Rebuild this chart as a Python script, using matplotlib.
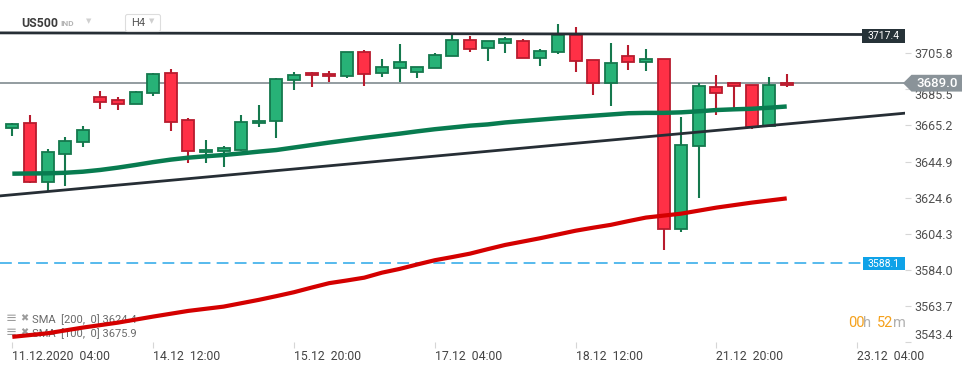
import matplotlib
matplotlib.use('Agg')
import matplotlib.pyplot as plt
from matplotlib.patches import Polygon, Rectangle, FancyBboxPatch
import numpy as np

plt.rcParams['font.family'] = ['Roboto', 'DejaVu Sans']
plt.rcParams['lines.scale_dashes'] = False

W, H = 974, 368

# ---------------- data ----------------
opens = [3663.6, 3666.4, 3633.6, 3649.0, 3655.8, 3681.1, 3679.4, 3677.1, 3683.3, 3694.6,
         3668.1, 3650.1, 3650.7, 3651.6, 3666.4, 3667.6, 3690.6, 3694.6, 3694.0, 3692.9,
         3706.4, 3694.6, 3697.4, 3695.1, 3697.4, 3704.1, 3713.1, 3708.6, 3711.4, 3712.6,
         3703.0, 3706.4, 3715.9, 3701.9, 3688.9, 3704.1, 3700.7, 3702.4, 3606.8, 3653.5,
         3686.7, 3688.9, 3687.8, 3664.8, 3688.9]
highs = [3666.8, 3671.1, 3652.0, 3658.7, 3665.1, 3684.6, 3681.2, 3684.6, 3694.6, 3697.0,
         3669.3, 3657.1, 3653.7, 3671.1, 3676.7, 3691.9, 3695.1, 3695.1, 3695.7, 3706.4,
         3707.5, 3702.4, 3711.0, 3697.9, 3706.0, 3716.1, 3715.5, 3712.6, 3714.8, 3713.7,
         3708.1, 3722.3, 3720.8, 3701.9, 3711.6, 3710.5, 3708.2, 3702.4, 3670.0, 3688.9,
         3693.6, 3688.9, 3687.8, 3692.5, 3694.2]
lows = [3659.5, 3633.0, 3628.0, 3631.2, 3653.3, 3674.5, 3673.9, 3677.1, 3682.0, 3662.3,
        3643.9, 3644.3, 3642.0, 3651.0, 3664.5, 3658.3, 3685.3, 3686.7, 3689.4, 3692.1,
        3687.6, 3692.6, 3689.8, 3692.1, 3697.4, 3704.1, 3706.7, 3701.6, 3706.1, 3703.0,
        3698.8, 3705.2, 3695.5, 3682.4, 3676.3, 3696.4, 3696.0, 3595.4, 3605.5, 3624.6,
        3671.3, 3674.3, 3663.4, 3664.8, 3686.7]
closes = [3665.9, 3633.6, 3650.1, 3656.5, 3662.7, 3678.6, 3677.1, 3683.9, 3694.0, 3667.0,
          3650.7, 3651.4, 3652.4, 3667.0, 3667.6, 3691.2, 3693.4, 3693.4, 3692.9, 3706.4,
          3694.0, 3697.9, 3700.7, 3697.9, 3704.7, 3713.1, 3708.1, 3712.6, 3713.7, 3703.0,
          3706.9, 3715.9, 3701.3, 3688.9, 3700.2, 3700.7, 3702.4, 3606.8, 3654.1, 3687.2,
          3683.3, 3687.2, 3664.5, 3687.8, 3687.8]

sma100 = [3638.1, 3638.2, 3638.3, 3638.6, 3639.2, 3640.2, 3641.5, 3643.0, 3644.6, 3646.0,
          3647.1, 3647.9, 3648.6, 3649.5, 3650.5, 3651.4, 3652.8, 3654.2, 3655.6, 3656.9,
          3658.2, 3659.4, 3660.6, 3661.9, 3663.1, 3664.1, 3665.1, 3665.8, 3666.9, 3667.7,
          3668.5, 3669.3, 3670.0, 3670.7, 3671.4, 3672.1, 3672.3, 3672.3, 3672.6, 3673.2,
          3673.9, 3674.3, 3674.6, 3675.2, 3675.9]
sma200 = [3546.3, 3547.3, 3548.3, 3549.9, 3551.5, 3552.9, 3554.3, 3556.0, 3557.7, 3559.3,
          3560.9, 3562.1, 3563.3, 3565.2, 3567.1, 3569.2, 3571.4, 3574.0, 3576.5, 3578.0,
          3579.6, 3582.4, 3584.5, 3587.0, 3589.4, 3591.2, 3593.1, 3595.6, 3598.0, 3599.9,
          3601.8, 3603.9, 3606.0, 3607.7, 3609.3, 3611.4, 3613.4, 3614.5, 3615.6, 3617.3,
          3619.0, 3620.4, 3621.8, 3623.0, 3624.2]

y_ticks = [3705.8, 3685.5, 3665.2, 3644.9, 3624.6, 3604.3, 3584.0, 3563.7, 3543.4]
x_tick_pos = [0, 8, 16, 24, 32, 40, 48]
x_tick_labels = ['11.12.2020  04:00', '14.12  12:00', '15.12  20:00', '17.12  04:00',
                 '18.12  12:00', '21.12  20:00', '23.12  04:00']

resistance_x = [-0.7, 48.2]
resistance_y = [3717.3, 3716.4]
support_x = [-0.7, 50.8]
support_y = [3625.6, 3672.2]
last_price = 3689.0
resistance_label = 3717.4
blue_level = 3588.1
sma_labels = ['SMA  [200,  0] 3624.4', 'SMA  [100,  0] 3675.9']
symbol = 'US500'
timeframe = 'H4'

# ---------------- colors ----------------
UP_FILL, UP_EDGE = '#27b277', '#15784d'
DN_FILL, DN_EDGE = '#ff3046', '#b81b2e'

fig = plt.figure(figsize=(W / 100, H / 100), dpi=100)
fig.patch.set_facecolor('white')

under = fig.add_axes([0, 0, 1, 1], zorder=0)
under.set_xlim(0, W); under.set_ylim(H, 0); under.axis('off')

ax = fig.add_axes([0, 26 / H, 905 / W, 342 / H], zorder=1)
ax.set_facecolor('none')
ax.set_xlim(-0.7, 50.72)
ax.set_ylim(3543.45, 3735.8)
for s in ax.spines.values():
    s.set_visible(False)

o = np.array(opens); hi = np.array(highs); lo = np.array(lows); c = np.array(closes)
x = np.arange(len(o))
up = c >= o
fills = np.where(up, UP_FILL, DN_FILL)
edges = np.where(up, UP_EDGE, DN_EDGE)

ax.vlines(x, lo, hi, colors=edges, lw=1.5, zorder=3)
ax.bar(x, np.abs(c - o), bottom=np.minimum(o, c), width=0.68, color=fills,
       edgecolor=edges, linewidth=1.3, zorder=4)

ax.plot(x, sma100, color='#087c50', lw=3.2, zorder=5, solid_capstyle='butt')
ax.plot(x, sma200, color='#d40000', lw=3.0, zorder=5, solid_capstyle='butt')

ax.plot(resistance_x, resistance_y, color='#262e35', lw=2.0, zorder=5)
ax.plot(support_x, support_y, color='#262e35', lw=2.0, zorder=5)

ax.axhline(last_price, color='#8a9499', lw=1.3, zorder=2)
ax.axhline(blue_level, xmax=862 / 905, color='#39aeea', lw=1.2, zorder=2,
           dashes=(8.5, 4.5))

ax.yaxis.tick_right()
ax.set_yticks(y_ticks)
ax.set_yticklabels([f'{v:.1f}' for v in y_ticks])
ax.tick_params(axis='y', length=4, width=0.8, color='#d6d6d6', pad=3,
               labelsize=9, labelcolor='#505050')
ax.get_yticklabels()[-1].set_va('bottom')
# the 3685.5 label sits mostly behind the last-price box
ax.get_yticklabels()[1].set_va('top')

ax.set_xticks(x_tick_pos)
ax.set_xticklabels(x_tick_labels)
ax.tick_params(axis='x', length=4, width=0.8, color='#d6d6d6', pad=2,
               labelsize=8.8, labelcolor='#444444')
for lbl in ax.get_xticklabels():
    lbl.set_ha('left')

# ---------------- overlay ----------------
ov = fig.add_axes([0, 0, 1, 1], zorder=5)
ov.set_xlim(0, W); ov.set_ylim(H, 0); ov.axis('off')


def py(price):
    return H - ax.transData.transform((0, price))[1]


# last price box
yp = py(last_price)
ov.add_patch(Polygon([(903, yp), (911.5, yp - 8.4), (962, yp - 8.4), (962, yp + 8.4),
                      (911.5, yp + 8.4)], closed=True, fc='#8a9399', ec='none'))
ov.text(937, yp + 0.5, f'{last_price:.1f}', color='white', fontsize=9.5,
        ha='center', va='center', fontweight='medium')

# resistance box
yr = py(resistance_y[-1]) + 1.5
ov.add_patch(Rectangle((862, yr - 6.7), 43, 13.4, fc='#263238', ec='none'))
ov.text(883.5, yr, f'{resistance_label:.1f}', color='white', fontsize=7.5,
        ha='center', va='center')

# blue level box
yb = py(blue_level) + 1
ov.add_patch(Rectangle((862.5, yb - 6.8), 42.5, 13.6, fc='#0ea2e8', ec='none'))
ov.text(883.7, yb, f'{blue_level:.1f}', color='white', fontsize=7.5,
        ha='center', va='center')

# header
ov.text(21, 23.5, symbol, fontsize=8.8, fontweight='bold', color='#3c3c3c',
        ha='left', va='center')
ov.text(60, 24, 'IND', fontsize=6, fontweight='bold', color='#b4b4b4',
        ha='left', va='center')
ov.text(86, 21, '▼', fontsize=5, color='#d0d0d0', ha='left', va='center',
        family='DejaVu Sans')
ov.add_patch(FancyBboxPatch((125.5, 14.5), 35, 17, boxstyle='round,pad=0,rounding_size=2',
                            fc='white', ec='#dddddd', lw=0.8))
ov.text(131, 23.2, timeframe, fontsize=8, color='#555555', ha='left', va='center')
ov.text(149, 21.5, '▼', fontsize=5, color='#cfcfcf', ha='left', va='center',
        family='DejaVu Sans')

# countdown
ov.text(848, 323, '00', fontsize=10.5, color='#f5a11c', ha='left', va='center')
ov.text(863.5, 323, 'h', fontsize=10.5, color='#b0b0b0', ha='left', va='center')
ov.text(877, 323, '52', fontsize=10.5, color='#f5a11c', ha='left', va='center')
ov.text(893, 323, 'm', fontsize=10.5, color='#b0b0b0', ha='left', va='center')

# SMA legend (under the lines)
for i, (lab, yy) in enumerate(zip(sma_labels, [320, 334])):
    under.text(6, yy - 1.5, '≡', fontsize=9.5, color='#9c9c9c', ha='left', va='center',
               family='DejaVu Sans')
    under.text(20, yy - 1.5, '✖', fontsize=7, color='#9c9c9c', ha='left', va='center',
               family='DejaVu Sans')
    under.text(32, yy, lab, fontsize=8, color='#6a6a6a', ha='left', va='center')

fig.savefig('out.png', dpi=100, facecolor='white')
